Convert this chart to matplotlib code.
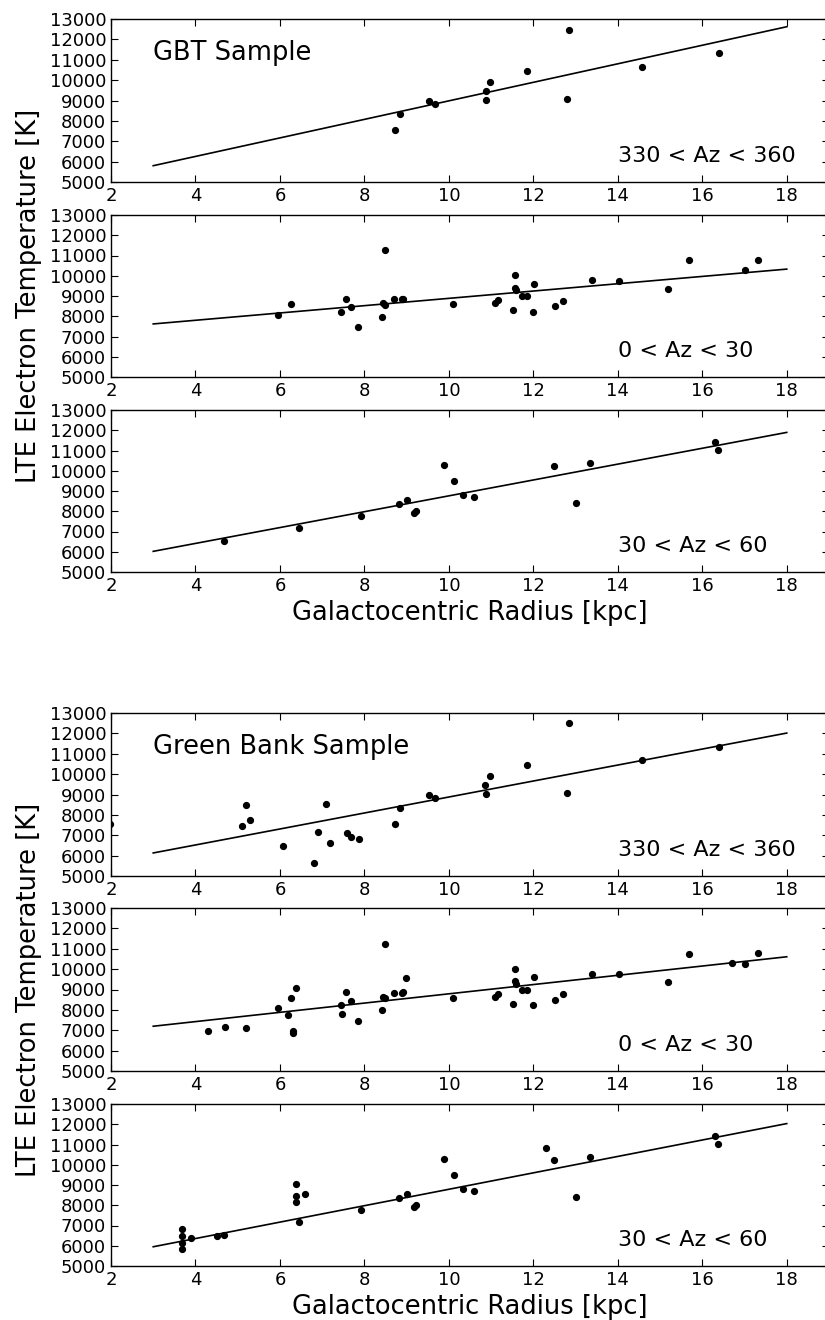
import numpy as np
import matplotlib
import matplotlib.pyplot as plt

matplotlib.use("Agg")

# GBT sample
gbt_r1 = [8.72, 8.84, 9.52, 9.68, 10.87, 10.87, 10.97, 11.84, 12.79, 12.84, 14.57, 16.40]
gbt_t1 = [7540, 8320, 8970, 8810, 9475, 9020, 9920, 10460, 9090, 12480, 10660, 11330]
gbt_r2 = [5.95, 6.25, 7.44, 7.56, 7.68, 7.86, 8.41, 8.45, 8.48, 8.48, 8.69, 8.88, 8.92,
          10.09, 11.10, 11.17, 11.52, 11.57, 11.57, 11.58, 11.74, 11.84, 11.98, 12.01,
          12.51, 12.71, 13.40, 14.03, 15.18, 15.69, 17.01, 17.33]
gbt_t2 = [8070, 8600, 8220, 8850, 8450, 7460, 7970, 8630, 8550, 11250, 8830, 8830, 8840,
          8600, 8630, 8800, 8300, 10015, 9410, 9280, 8980, 8985, 8205, 9590,
          8485, 8750, 9785, 9745, 9340, 10765, 10265, 10795]
gbt_r3 = [4.68, 6.45, 7.92, 8.82, 9.01, 9.18, 9.22, 9.89, 10.12, 10.33, 10.59, 12.50,
          13.00, 13.35, 16.29, 16.38]
gbt_t3 = [6550, 7150, 7745, 8355, 8575, 7910, 8010, 10295, 9490, 8805, 8685, 10245,
          8420, 10375, 11430, 11035]

# Green Bank sample
gb_r1 = [1.98, 5.09, 5.19, 5.29, 6.08, 6.80, 6.89, 7.09, 7.19, 7.58, 7.69, 7.88, 8.72,
         8.84, 9.52, 9.68, 10.86, 10.87, 10.97, 11.84, 12.79, 12.84, 14.57, 16.40]
gb_t1 = [7557, 7460, 8475, 7755, 6490, 5625, 7150, 8525, 6640, 7100, 6900, 6835, 7530,
         8325, 8980, 8830, 9475, 9020, 9930, 10470, 9095, 12490, 10670, 11340]
gb_r2 = [4.29, 4.69, 5.19, 5.95, 6.20, 6.25, 6.30, 6.30, 6.39, 7.44, 7.48, 7.56, 7.68,
         7.86, 8.41, 8.45, 8.48, 8.48, 8.69, 8.88, 8.92, 8.99, 10.09, 11.10, 11.17,
         11.52, 11.57, 11.57, 11.58, 11.74, 11.84, 11.98, 12.01, 12.51, 12.71, 13.40,
         14.03, 15.18, 15.69, 16.70, 17.01, 17.33]
gb_t2 = [6970, 7180, 7100, 8080, 7755, 8605, 6950, 6885, 9095, 8230, 7820, 8865, 8460,
         7475, 7985, 8655, 8575, 11245, 8835, 8850, 8860, 9540, 8605, 8655, 8800,
         8310, 10015, 9425, 9265, 8985, 9000, 8215, 9590, 8490, 8755, 9785,
         9740, 9345, 10755, 10310, 10260, 10785]
gb_r3 = [3.68, 3.68, 3.68, 3.68, 3.89, 4.50, 4.68, 6.39, 6.39, 6.39, 6.45, 6.59, 7.92,
         8.82, 9.01, 9.18, 9.22, 9.89, 10.12, 10.33, 10.59, 12.29, 12.50, 13.00, 13.35,
         16.29, 16.38]
gb_t3 = [6835, 6490, 6130, 5835, 6360, 6505, 6555, 9065, 8445, 8165, 7165, 8575, 7755,
         8360, 8575, 7915, 8015, 10295, 9490, 8805, 8690, 10835, 10245, 8425, 10375,
         11425, 11035]

# linear fits: (intercept, slope) in K and K/kpc
fits = [(4436, 454.7), (7079, 180.5), (4845, 391.6),
        (4954, 392.3), (6515, 227.3), (4734, 405.5)]
fit_range = [3, 18]

panels = [(gbt_r1, gbt_t1), (gbt_r2, gbt_t2), (gbt_r3, gbt_t3),
          (gb_r1, gb_t1), (gb_r2, gb_t2), (gb_r3, gb_t3)]
az_labels = ["330 < Az < 360", "0 < Az < 30", "30 < Az < 60"] * 2
sample_labels = {0: "GBT Sample", 3: "Green Bank Sample"}

# axes geometry in pixels (top, bottom) for an 825x1320 figure
W, H = 825, 1320
rows = [(19, 182), (215, 377), (410, 572), (713, 876), (908, 1071), (1104, 1266)]
left_px, right_px = 111, 829

fig = plt.figure(figsize=(W / 100, H / 100), dpi=100)

for i, ((r, t), (top, bot)) in enumerate(zip(panels, rows)):
    ax = fig.add_axes([left_px / W, 1 - bot / H, (right_px - left_px) / W, (bot - top) / H])
    ax.plot(r, t, 'o', color='k', ms=4.2, mec='k')
    b0, m = fits[i]
    xx = np.array(fit_range, dtype=float)
    ax.plot(xx, b0 + m * xx, color='k', lw=1.2)
    ax.set_xlim(2, 19)
    ax.set_ylim(5000, 13000)
    ax.set_xticks(np.arange(2, 19, 2))
    ax.set_yticks(np.arange(5000, 13001, 1000))
    ax.tick_params(direction='in', top=True, right=True, labelsize=13,
                   length=5, width=0.8, pad=3.5)
    for s in ax.spines.values():
        s.set_linewidth(1.0)
    ax.text(14, 6000, az_labels[i], fontsize=16)
    if i in sample_labels:
        ax.text(3, 11000, sample_labels[i], fontsize=18.5)
    if i % 3 == 1:
        ax.set_ylabel("LTE Electron Temperature [K]", fontsize=18.5)
        ax.yaxis.set_label_coords(-0.096, 0.5)
    if i % 3 == 2:
        ax.set_xlabel("Galactocentric Radius [kpc]", fontsize=18.5, labelpad=4)

fig.savefig("out.png", dpi=100)
